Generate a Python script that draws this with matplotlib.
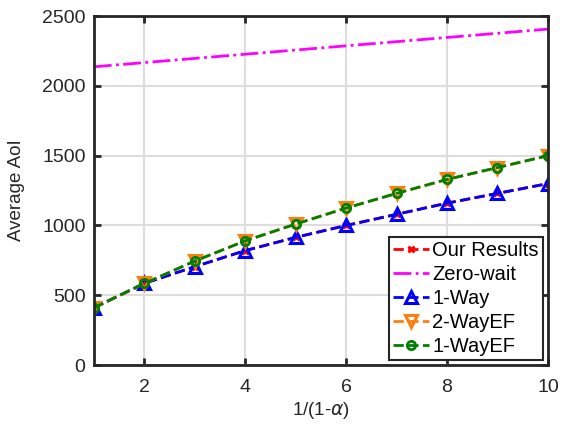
import matplotlib
matplotlib.use("Agg")
import matplotlib.pyplot as plt

plt.rcParams['font.family'] = ['Liberation Sans', 'DejaVu Sans']
plt.rcParams['mathtext.fontset'] = 'dejavusans'

x = [1, 2, 3, 4, 5, 6, 7, 8, 9, 10]
our_results = [410, 585, 705, 820, 915, 1000, 1080, 1160, 1230, 1300]
zero_wait = [2137, 2167, 2197, 2227, 2257, 2287, 2317, 2347, 2377, 2407]
one_way = [410, 585, 705, 820, 915, 1000, 1080, 1160, 1230, 1300]
two_way_ef = [410, 585, 745, 890, 1010, 1125, 1230, 1330, 1415, 1500]
one_way_ef = [410, 585, 745, 890, 1010, 1125, 1230, 1330, 1415, 1500]

fig = plt.figure(figsize=(5.62, 4.24), dpi=100)
ax = fig.add_axes([0.167, 0.139, 0.808, 0.823])

ax.plot(x, our_results, '--', color='red', lw=2, marker='x', ms=5, mew=2,
        label='Our Results')
ax.plot(x, zero_wait, '-.', color='magenta', lw=2, label='Zero-wait')
ax.plot(x, one_way, '--', color='blue', lw=2, marker='^', ms=9, mew=2.2,
        mfc='none', label='1-Way')
ax.plot(x, two_way_ef, '--', color='#ff7f0e', lw=2, marker='v', ms=9, mew=2.2,
        mfc='none', label='2-WayEF')
ax.plot(x, one_way_ef, '--', color='green', lw=2, marker='o', ms=6, mew=2,
        mfc='none', label='1-WayEF')

ax.set_xlim(1, 10)
ax.set_ylim(0, 2500)
ax.set_xticks([2, 4, 6, 8, 10])
ax.set_yticks([0, 500, 1000, 1500, 2000, 2500])
ax.grid(True, color='#dddddd', lw=1.5)
ax.set_axisbelow(True)
ax.tick_params(direction='in', top=True, right=True, labelsize=14,
               width=2, length=5, colors='#262626', pad=6)
ax.tick_params(axis='x', pad=10)
for s in ax.spines.values():
    s.set_linewidth(2)
    s.set_color('#262626')
ax.set_xlabel('1/(1-$\\alpha$)', fontsize=13.5, color='#262626', labelpad=3)
ax.set_ylabel('Average AoI', fontsize=13.5, color='#262626', labelpad=12)

leg = ax.legend(loc='lower right', fontsize=14.5, handlelength=1.8,
                handletextpad=0.15, borderpad=0.2, labelspacing=0.25,
                fancybox=False, edgecolor='#262626', framealpha=1,
                borderaxespad=0.25)
leg.get_frame().set_linewidth(1.5)

fig.savefig('out.png', dpi=100)
